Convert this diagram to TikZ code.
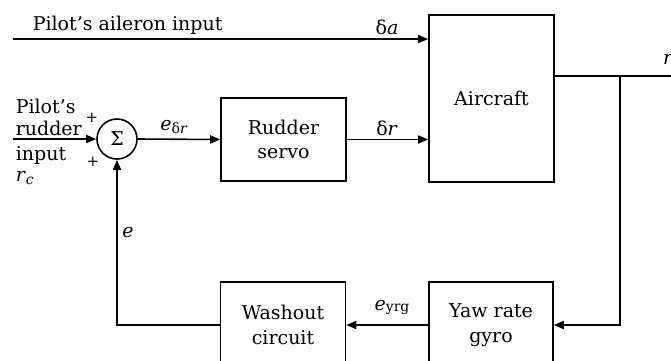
\documentclass[tikz,border=0pt]{standalone}
\usepackage{fontspec}
\setmainfont{DejaVu Serif}
\usetikzlibrary{arrows.meta}
\newcommand{\subsz}{\fontsize{14}{14}\selectfont}
\begin{document}
\begin{tikzpicture}[x=1pt,y=-1pt, line width=1.6pt,
  >={Triangle[length=10pt,width=8pt]},
  font=\fontsize{19}{24.5}\selectfont]
\tikzset{
  blk/.style={draw, rectangle, inner sep=0pt, align=center, minimum width=125pt},
  lbl/.style={inner sep=0pt},
  sumnode/.style={draw, circle, minimum size=40pt, inner sep=0pt},
}
\useasboundingbox (0,0) rectangle (671,360);
\clip (0,0) rectangle (671,360);

% blocks
\node[blk, minimum height=167pt] (ac) at (491.5,98.5) {Aircraft};
\node[blk, minimum height=83pt] (rs) at (283.5,139.5) {Rudder\\servo};
\node[blk, minimum height=86pt] (wo) at (283,325) {Washout\\circuit};
\node[blk, minimum width=124pt, minimum height=86pt] (yg) at (491,325) {Yaw rate\\gyro};
\node[sumnode] (sum) at (117,139) {Σ};

% coordinates
\coordinate (ail) at (13,39);
\coordinate (rin) at (13,139);
\coordinate (rout) at (672,76);
\coordinate (br) at (620,76);

% connectors
\draw[->] (ail) -- (ail -| ac.west);
\draw[->] (rin) -- (sum.west);
\draw[->] (sum.east) -- (rs.west);
\draw[->] (rs.east) -- (rs.east -| ac.west);
\draw (ac.east |- rout) -- (rout);
\draw[->] (br) |- (yg.east);
\draw[->] (yg.west) -- (wo.east);
\draw[->] (wo.west) -| (sum.south);

% labels
\node[lbl, anchor=base west] (tail) at (32,30) {Pilot's aileron input};
\node[lbl] (tda) at (387,27) {δ\textit{a}};
\node[lbl] (tdr) at (387,128) {δ\textit{r}};
\node[lbl] (tedr) at (174,127) {\textit{e}\raisebox{-0.35ex}{\subsz δ\textit{r}}};
\node[lbl] (teyrg) at (392,307) {\textit{e}\raisebox{-0.1ex}{\subsz yrg}};
\node[lbl] (te) at (128,233) {\textit{e}};
\node[lbl] (tr) at (668,59) {\textit{r}};
\node[lbl, font=\fontsize{15}{15}\selectfont] (tp1) at (92,118) {+};
\node[lbl, font=\fontsize{15}{15}\selectfont] (tp2) at (93,162) {+};
\node[lbl, anchor=base west] (tl1) at (15,113) {Pilot's};
\node[lbl, anchor=base west] (tl2) at (15,135) {rudder};
\node[lbl, anchor=base west] (tl3) at (15,160) {input};
\node[lbl, anchor=base west] (tl4) at (15,181) {\textit{r}\raisebox{-0.4ex}{\subsz\textit{c}}};
\end{tikzpicture}
\end{document}
